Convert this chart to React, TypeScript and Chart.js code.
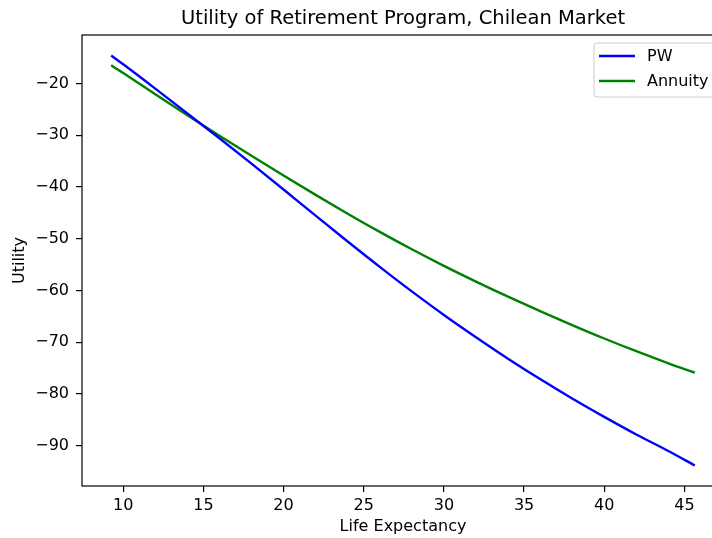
import React, { useEffect, useRef } from "react";
import { Chart, registerables } from "chart.js";

Chart.register(...registerables);

// ---- data ----
const lifeExpectancy = [9.25, 10, 12, 14, 16, 18, 20, 22, 24, 26, 28, 30, 32, 34, 36, 38, 40, 42, 44, 45.65];
const pwUtility = [-14.6, -16.3, -21.0, -25.8, -30.6, -35.5, -40.5, -45.55, -50.55, -55.45, -60.2, -64.75, -69.05, -73.2, -77.15, -80.9, -84.45, -87.85, -91.05, -93.85];
const annuityUtility = [-16.5, -18.0, -22.1, -26.15, -30.1, -33.98, -37.8, -41.54, -45.18, -48.7, -52.06, -55.26, -58.3, -61.22, -64.0, -66.7, -69.3, -71.76, -74.1, -75.9];

const xTicks = [10, 15, 20, 25, 30, 35, 40, 45];
const yTicks = [-90, -80, -70, -60, -50, -40, -30, -20];
const seriesLabels = ["PW", "Annuity"];
const chartTitle = "Utility of Retirement Program, Chilean Market";
const xLabel = "Life Expectancy";
const yLabel = "Utility";

const FONT = "'DejaVu Sans', sans-serif";

function fmt(v: number): string {
  return v < 0 ? "\u2212" + String(Math.abs(v)) : String(v);
}

export default function App() {
  const ref = useRef<HTMLCanvasElement | null>(null);

  useEffect(() => {
    if (!ref.current) return;

    const allY = [...pwUtility, ...annuityUtility];
    const xMinD = Math.min(...lifeExpectancy);
    const xMaxD = Math.max(...lifeExpectancy);
    const yMinD = Math.min(...allY);
    const yMaxD = Math.max(...allY);
    const xm = (xMaxD - xMinD) * 0.05;
    const ym = (yMaxD - yMinD) * 0.05;

    const decor = {
      id: "mplDecor",
      afterDatasetsDraw(chart: any) {
        const { ctx, chartArea: a } = chart;
        ctx.save();
        // spines
        ctx.strokeStyle = "#000";
        ctx.lineWidth = 1.2;
        ctx.strokeRect(a.left, a.top, a.right - a.left, a.bottom - a.top);
        // title
        ctx.fillStyle = "#000";
        ctx.font = `19.5px ${FONT}`;
        ctx.textAlign = "center";
        ctx.textBaseline = "alphabetic";
        ctx.fillText(chartTitle, (a.left + a.right) / 2, 23.5);
        // legend
        const x0 = a.right - 130;
        const y0 = a.top + 8;
        const w = 123;
        const h = 54;
        ctx.beginPath();
        if ((ctx as any).roundRect) (ctx as any).roundRect(x0, y0, w, h, 3);
        else ctx.rect(x0, y0, w, h);
        ctx.fillStyle = "rgba(255,255,255,0.8)";
        ctx.fill();
        ctx.strokeStyle = "#cccccc";
        ctx.lineWidth = 1;
        ctx.stroke();
        chart.data.datasets.forEach((ds: any, i: number) => {
          const ly = y0 + 13 + i * 25;
          ctx.beginPath();
          ctx.strokeStyle = ds.borderColor;
          ctx.lineWidth = 2.4;
          ctx.moveTo(x0 + 5, ly);
          ctx.lineTo(x0 + 41, ly);
          ctx.stroke();
          ctx.fillStyle = "#000";
          ctx.font = `16px ${FONT}`;
          ctx.textAlign = "left";
          ctx.textBaseline = "middle";
          ctx.fillText(ds.label, x0 + 53, ly + 1);
        });
        ctx.restore();
      },
    };

    const axisCommon = {
      grid: { drawOnChartArea: false, drawTicks: true, tickLength: 6, color: "#000", lineWidth: 1.2 },
      border: { display: false },
    };

    const chart = new Chart(ref.current, {
      type: "line",
      data: {
        datasets: [
          {
            label: seriesLabels[0],
            data: lifeExpectancy.map((x, i) => ({ x, y: pwUtility[i] })),
            borderColor: "#0000ff",
            backgroundColor: "#0000ff",
            borderWidth: 2.4,
            pointRadius: 0,
            cubicInterpolationMode: "monotone",
            fill: false,
          },
          {
            label: seriesLabels[1],
            data: lifeExpectancy.map((x, i) => ({ x, y: annuityUtility[i] })),
            borderColor: "#008000",
            backgroundColor: "#008000",
            borderWidth: 2.4,
            pointRadius: 0,
            cubicInterpolationMode: "monotone",
            fill: false,
          },
        ],
      },
      options: {
        responsive: false,
        animation: false,
        devicePixelRatio: 1,
        layout: { padding: { left: 0, right: 36, top: 35, bottom: 0 } },
        plugins: {
          legend: { display: false },
          title: { display: false },
          tooltip: { enabled: false },
        },
        scales: {
          x: {
            type: "linear",
            min: xMinD - xm,
            max: xMaxD + xm,
            afterBuildTicks: (s: any) => {
              s.ticks = xTicks.map((v) => ({ value: v }));
            },
            afterFit: (s: any) => {
              s.height = 52;
            },
            ...axisCommon,
            ticks: {
              font: { family: FONT, size: 16 },
              color: "#000",
              padding: 4,
              maxRotation: 0,
              callback: (v: any) => fmt(Number(v)),
            },
            title: {
              display: true,
              text: xLabel,
              font: { family: FONT, size: 16 },
              color: "#000",
              padding: { top: 0, bottom: 1.5 },
            },
          },
          y: {
            type: "linear",
            min: yMinD - ym,
            max: yMaxD + ym,
            afterBuildTicks: (s: any) => {
              s.ticks = yTicks.map((v) => ({ value: v }));
            },
            afterFit: (s: any) => {
              s.width = 82;
            },
            ...axisCommon,
            ticks: {
              font: { family: FONT, size: 16 },
              color: "#000",
              padding: 7,
              callback: (v: any) => fmt(Number(v)),
            },
            title: {
              display: true,
              text: yLabel,
              font: { family: FONT, size: 16 },
              color: "#000",
              padding: { top: 10.5, bottom: 0 },
            },
          },
        },
      } as any,
      plugins: [decor],
    });

    return () => chart.destroy();
  }, []);

  return (
    <div
      style={{
        position: "absolute",
        left: 0,
        top: 0,
        width: 712,
        height: 538,
        overflow: "hidden",
        background: "#fff",
      }}
    >
      <canvas ref={ref} width={760} height={538} style={{ width: 760, height: 538, display: "block" }} />
    </div>
  );
}
